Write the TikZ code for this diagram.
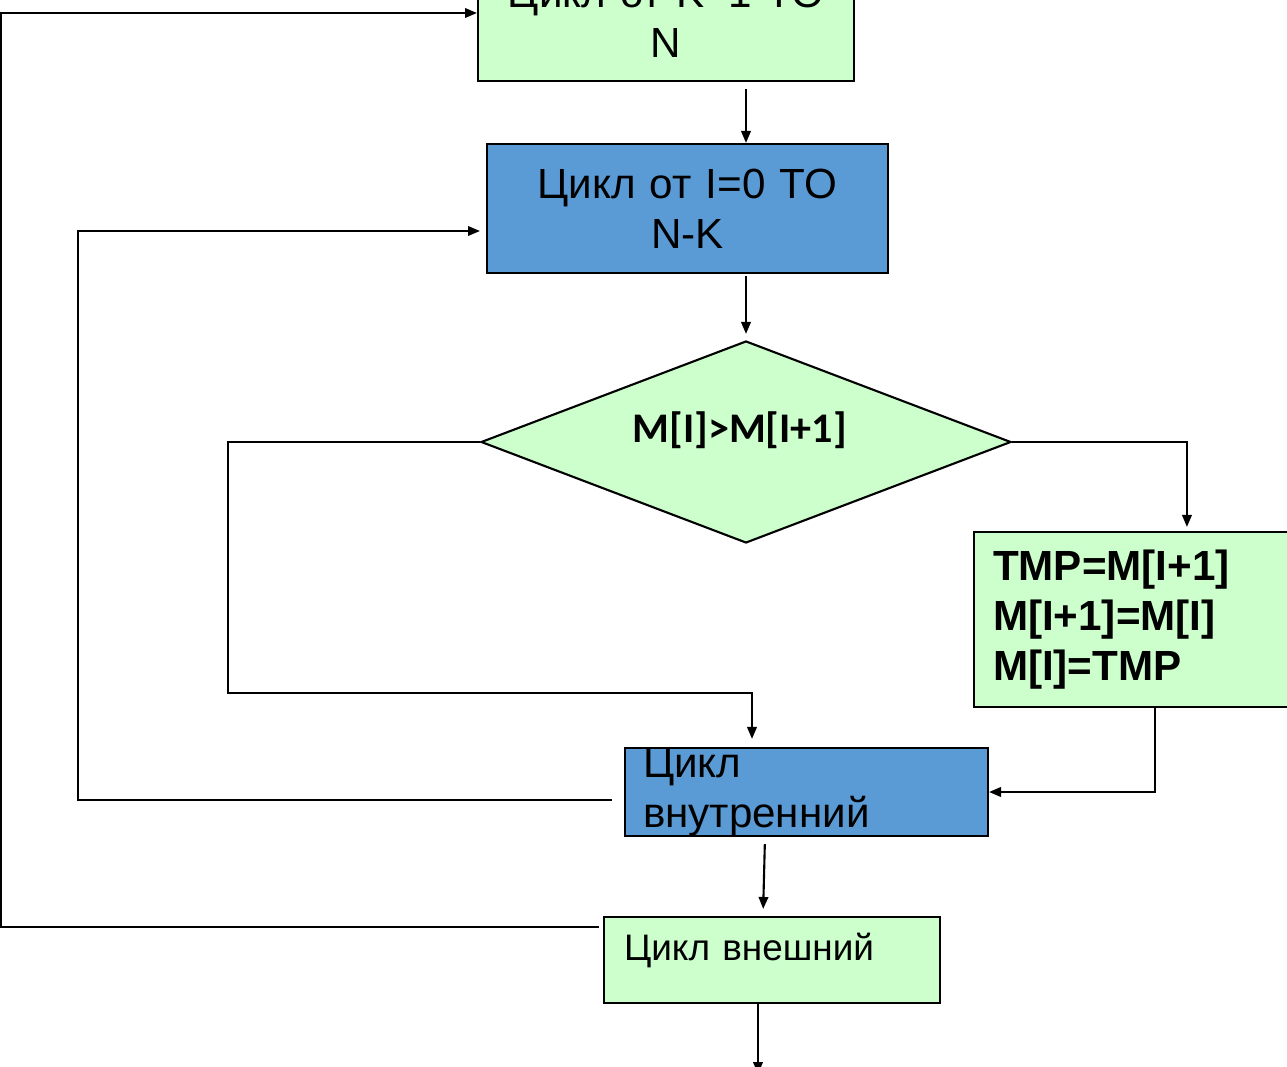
\documentclass[tikz,border=0pt]{standalone}
\usepackage{fontspec}
\setmainfont{Liberation Sans}
\newfontfamily\carlito{Carlito}
\usepackage{tikz}
\usetikzlibrary{shapes}
\usetikzlibrary{arrows.meta}
\definecolor{boxgreen}{RGB}{204,255,204}
\definecolor{boxblue}{RGB}{91,155,213}

\begin{document}
\begin{tikzpicture}[line width=1.2pt]
	\useasboundingbox (0,0) rectangle (25.74,-21.34);
	\begin{scope}[every node/.style={draw,line width=1.2pt,font=\fontsize{24}{28.5}\selectfont}]
		\node[fill=boxgreen,minimum width=7.52cm,minimum height=2.52cm,text width=7cm,align=center] (outer) at (13.32,-0.36) {Цикл от K=1 TO\\N};
		\node[fill=boxblue,minimum width=8.02cm,minimum height=2.58cm,text width=7.5cm,align=center] (inner) at (13.75,-4.17) {Цикл от I=0 TO\\N-K};
		\node[diamond,shape aspect=2.62,fill=boxgreen,inner sep=0pt,minimum width=10.6cm,minimum height=4.04cm,text height=0.6cm,text depth=0.56cm,font=\carlito\bfseries\fontsize{24}{28.5}\selectfont] (cond) at (14.92,-8.84) {M[I]>M[I+1]\kern0.25cm};
		\node[fill=boxgreen,minimum width=6.92cm,minimum height=3.5cm,inner xsep=0.38cm,text width=6.16cm,align=left,font=\bfseries\fontsize{24}{28.5}\selectfont] (swap) at (22.94,-12.39) {TMP=M[I+1]\\M[I+1]=M[I]\\M[I]=TMP};
		\node[fill=boxblue,minimum width=7.26cm,minimum height=1.76cm,inner xsep=0.36cm,inner ysep=-1pt,text width=6.54cm,align=left] (innerend) at (16.13,-15.84) {Цикл\\внутренний};
		\node[fill=boxgreen,minimum width=6.72cm,minimum height=1.72cm,inner xsep=0.4cm,inner ysep=0.1cm,text width=5.92cm,text height=0.76cm,text depth=0.76cm,align=left,font=\fontsize{21}{25}\selectfont] (outerend) at (15.44,-19.2) {Цикл внешний};
	\end{scope}
	\coordinate (exit) at (15.16,-21.48);
	
	\begin{scope}[>={Triangle[length=6.8pt,width=5.4pt]}]
		\draw[->,shorten <=0.14cm] (outer.south -| cond.north) -- (inner.north -| cond.north);
		\draw[->,shorten <=0.04cm,shorten >=0.12cm] (inner.south -| cond.north) -- (cond.north);
		\draw[->,shorten >=0.08cm] (cond.east) -| ([xshift=4.28cm]swap.north west);
		\draw[->] ([xshift=3.64cm]swap.south west) |- (innerend.east);
		\draw[->,shorten >=0.16cm] (cond.west) -- ++(-5.04,0) |- ([xshift=-1.09cm,yshift=1.08cm]innerend.north) -- ([xshift=-1.09cm]innerend.north);
		\draw[->,shorten >=0.12cm] ([xshift=-0.24cm,yshift=-0.16cm]innerend.west) -- ++(-10.68,0) |- ([yshift=-0.45cm]inner.west);
		\draw[->,shorten <=0.14cm,shorten >=0.14cm] ([xshift=-0.83cm]innerend.south) -- ([xshift=-0.18cm]outerend.north);
		\draw[->] ([xshift=-0.08cm,yshift=0.66cm]outerend.west) -- ++(-11.96,0) |- ([yshift=0.1cm]outer.west);
		\draw[->] (outerend.south -| exit) -- (exit);
	\end{scope}
\end{tikzpicture}
\end{document}
